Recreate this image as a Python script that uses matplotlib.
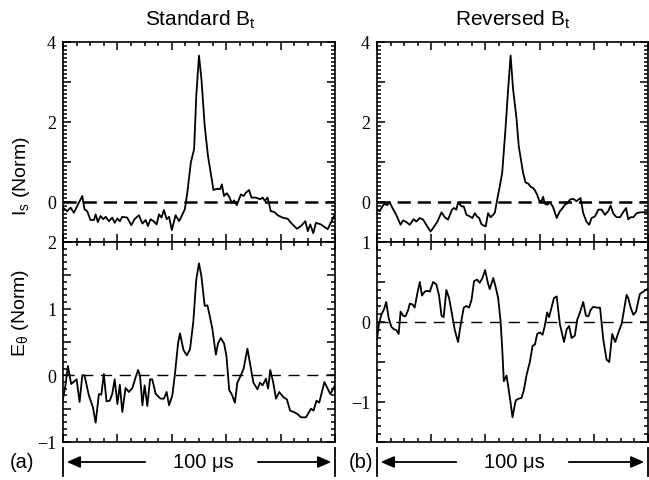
import numpy as np
import matplotlib
matplotlib.use('Agg')
import matplotlib.pyplot as plt
from matplotlib.ticker import MultipleLocator, FixedLocator, FixedFormatter
from matplotlib.lines import Line2D

plt.rcParams['mathtext.fontset'] = 'custom'
plt.rcParams['mathtext.rm'] = 'Liberation Sans'
plt.rcParams['mathtext.it'] = 'Liberation Sans:italic'
plt.rcParams['mathtext.bf'] = 'Liberation Sans:bold'
plt.rcParams['lines.scale_dashes'] = False

# ---------------- data (time in % of 100 us window) ----------------
t_is_std = [0, 1.5, 2.8, 4.0, 5.8, 7.1, 7.9, 8.9, 10.1, 11.4, 12.0, 12.8, 13.8, 14.8, 15.7,
            16.9, 18.1, 19.0, 20.0, 20.9, 21.8, 23.6, 25.1, 26.3, 27.9, 29.2, 30.4, 31.2,
            32.2, 33.5, 34.4, 35.3, 36.2, 37.1, 38.1, 39.0, 40.0, 41.4, 42.7, 43.9, 44.8,
            45.7, 47.0, 48.2, 49.0, 50.0, 50.9, 52.1, 53.3, 54.6, 55.3, 56.5, 57.8, 58.4,
            59.2, 60.2, 61.1, 62.1, 62.9, 63.9, 65.4, 66.4, 67.2, 68.4, 69.3, 70.9, 72.5,
            73.4, 74.2, 75.2, 76.4, 77.7, 78.9, 80.7, 82.6, 83.8, 86.0, 87.5, 89.1, 90.0,
            90.9, 92.0, 93.0, 94.8, 97.3, 99.1, 100]
is_std = [-0.14, -0.23, -0.14, -0.27, -0.02, 0.15, -0.18, -0.23, -0.45, -0.45, -0.31, -0.50,
          -0.35, -0.43, -0.37, -0.48, -0.39, -0.52, -0.41, -0.48, -0.37, -0.39, -0.58, -0.43,
          -0.33, -0.54, -0.45, -0.60, -0.43, -0.49, -0.56, -0.31, -0.39, -0.20, -0.43, -0.37,
          -0.70, -0.33, -0.48, -0.31, -0.18, 0.23, 0.99, 1.32, 2.66, 3.66, 3.07, 1.90, 1.15,
          0.61, 0.30, 0.33, 0.32, 0.44, 0.15, 0.22, 0.13, -0.03, 0.04, -0.08, 0.19, 0.15,
          0.23, 0.30, 0.11, 0.11, 0.07, 0.11, 0.03, 0.11, -0.23, -0.25, -0.33, -0.39, -0.42,
          -0.52, -0.67, -0.60, -0.48, -0.73, -0.56, -0.78, -0.52, -0.56, -0.68, -0.43, -0.30]

t_is_rev = [0, 1.0, 2.0, 2.8, 3.7, 4.7, 5.7, 7.1, 8.7, 9.6, 10.8, 12.1, 13.5, 14.5, 15.8,
            17.0, 18.2, 19.8, 21.1, 22.3, 23.8, 25.0, 26.2, 27.7, 28.4, 29.3, 29.9, 31.2,
            32.0, 33.0, 34.2, 35.2, 36.1, 36.9, 37.7, 38.5, 39.4, 40.1, 41.0, 41.9, 42.9,
            43.5, 44.3, 45.3, 46.2, 47.4, 48.4, 49.3, 50.2, 51.5, 52.3, 53.9, 54.8, 55.8,
            56.7, 57.6, 58.3, 59.1, 59.9, 60.7, 61.3, 61.9, 62.8, 63.8, 65.0, 66.3, 67.5,
            68.5, 69.3, 70.3, 71.2, 72.4, 73.6, 75.1, 76.1, 77.3, 78.3, 79.2, 80.4, 81.7,
            82.9, 84.1, 85.3, 86.2, 87.2, 88.4, 89.7, 90.6, 91.9, 92.7, 93.6, 94.6, 95.8,
            97.0, 100]
is_rev = [-0.19, -0.23, -0.11, -0.04, -0.08, -0.01, -0.15, -0.32, -0.57, -0.46, -0.50, -0.57,
          -0.43, -0.49, -0.40, -0.44, -0.57, -0.74, -0.61, -0.49, -0.26, -0.38, -0.44, -0.19,
          -0.15, -0.19, -0.01, -0.11, -0.11, -0.32, -0.36, -0.40, -0.28, -0.36, -0.40, -0.55,
          -0.59, -0.61, -0.28, -0.38, -0.32, -0.26, 0.04, 0.39, 0.73, 1.82, 2.83, 3.66, 2.83,
          2.07, 1.40, 0.73, 0.49, 0.46, 0.38, 0.35, 0.29, 0.18, 0.03, 0.02, 0.13, -0.04,
          -0.07, 0.00, -0.13, -0.40, -0.23, -0.15, -0.07, -0.03, 0.06, 0.08, 0.02, 0.10,
          -0.28, -0.49, -0.57, -0.40, -0.36, -0.19, -0.19, -0.32, -0.23, -0.09, -0.29, -0.38,
          -0.38, -0.28, -0.15, -0.43, -0.38, -0.38, -0.28, -0.26, -0.25]

t_e_std = [0, 0.9, 1.8, 3.0, 5.0, 6.1, 7.1, 7.9, 9.5, 11.0, 12.0, 13.2, 14.1, 15.0, 16.0,
           17.2, 18.1, 19.0, 20.0, 20.9, 21.8, 23.0, 24.2, 25.5, 26.7, 27.6, 28.3, 29.2,
           30.0, 31.0, 32.0, 32.8, 34.1, 35.9, 37.1, 38.1, 39.0, 40.2, 41.1, 42.3, 43.0,
           44.3, 45.5, 46.7, 47.9, 49.0, 50.0, 50.9, 52.1, 53.1, 53.9, 54.9, 56.2, 57.0,
           58.0, 59.2, 60.1, 61.1, 62.1, 63.2, 64.1, 65.4, 66.4, 67.8, 69.1, 70.0, 71.5,
           72.4, 73.4, 74.6, 75.4, 76.2, 77.3, 78.3, 79.5, 81.1, 82.3, 83.5, 84.8, 86.2,
           87.5, 89.3, 91.2, 92.1, 93.2, 94.2, 96.1, 97.3, 98.3, 100]
e_std = [-0.35, -0.15, 0.14, -0.13, -0.06, -0.40, 0.00, 0.00, -0.30, -0.48, -0.71, -0.28,
         -0.29, 0.02, -0.39, -0.38, -0.28, -0.06, -0.43, -0.14, -0.55, -0.19, -0.25, -0.19,
         -0.03, 0.08, 0.00, -0.45, -0.15, -0.46, -0.06, -0.06, -0.28, -0.35, -0.35, -0.25,
         -0.45, -0.30, 0.00, 0.48, 0.63, 0.38, 0.30, 0.39, 0.80, 1.44, 1.68, 1.48, 1.04,
         1.05, 0.90, 0.70, 0.31, 0.48, 0.56, 0.48, 0.29, -0.22, -0.29, -0.41, -0.11, 0.00,
         0.10, 0.40, 0.10, -0.11, -0.21, -0.11, -0.15, -0.05, -0.20, 0.08, -0.11, -0.35,
         -0.25, -0.33, -0.36, -0.53, -0.55, -0.58, -0.63, -0.63, -0.50, -0.53, -0.38, -0.41,
         -0.10, -0.20, -0.28, -0.15]

t_e_rev = [0, 0.7, 1.6, 2.6, 3.4, 4.3, 5.3, 6.2, 7.1, 8.0, 8.7, 9.6, 10.5, 11.5, 12.1,
           13.1, 13.9, 14.9, 15.8, 16.6, 17.6, 18.5, 19.5, 20.7, 21.9, 22.9, 23.8, 24.6,
           25.6, 26.6, 27.5, 28.7, 29.9, 30.8, 32.0, 33.0, 34.0, 34.9, 35.8, 36.9, 37.9,
           38.9, 39.9, 40.9, 41.6, 42.9, 43.7, 44.7, 45.6, 46.2, 46.8, 47.8, 48.4, 49.3,
           50.0, 50.6, 51.2, 52.1, 53.3, 54.2, 55.2, 56.4, 57.4, 58.3, 59.1, 60.1, 61.1,
           61.9, 62.8, 63.5, 64.4, 65.3, 66.3, 67.5, 69.0, 70.0, 70.9, 71.8, 73.0, 73.9,
           74.9, 76.1, 77.1, 78.0, 78.8, 79.8, 81.0, 82.3, 83.5, 84.7, 85.7, 86.8, 87.9,
           89.0, 90.3, 91.3, 92.1, 92.7, 93.6, 94.6, 95.6, 96.4, 97.0, 100]
e_rev = [-0.22, -0.03, 0.09, 0.16, 0.25, 0.05, -0.06, -0.09, -0.10, -0.15, 0.13, 0.08,
         0.07, 0.15, 0.23, 0.22, 0.18, 0.36, 0.50, 0.33, 0.38, 0.39, 0.38, 0.50, 0.47,
         0.33, 0.08, 0.06, 0.40, 0.30, 0.13, -0.10, -0.25, -0.05, 0.18, 0.20, 0.18, 0.28,
         0.51, 0.53, 0.49, 0.55, 0.65, 0.49, 0.41, 0.55, 0.45, 0.30, 0.01, -0.33, -0.74,
         -0.67, -0.80, -1.01, -1.19, -1.08, -0.98, -0.96, -0.95, -0.85, -0.66, -0.50, -0.30,
         -0.28, -0.15, -0.13, -0.16, -0.05, 0.12, 0.06, 0.18, 0.30, 0.32, -0.03, -0.25,
         -0.09, -0.05, -0.20, -0.17, 0.03, 0.12, 0.25, 0.08, 0.07, 0.15, 0.19, 0.18, 0.18,
         -0.22, -0.47, -0.50, -0.15, -0.25, -0.14, -0.02, 0.18, 0.34, 0.30, 0.18, 0.09,
         0.13, 0.26, 0.35, 0.42]

titles = ['Standard B$_\\mathrm{t}$', 'Reversed B$_\\mathrm{t}$']
ylabel_top = 'I$_\\mathrm{s}$ (Norm)'
ylabel_bot = 'E$_\\mathrm{\u03b8}$ (Norm)'
panel_tags = ['(a)', '(b)']
span_label = '100 \u03bcs'

# ---------------- layout ----------------
W, H = 649, 481
fig = plt.figure(figsize=(W / 100, H / 100), dpi=100)


def rect(l, t, r, b):
    return [l / W, 1 - b / H, (r - l) / W, (b - t) / H]


def fx(x):
    return x / W


def fy(y):
    return 1 - y / H


panels = [
    dict(r=rect(63, 43, 335, 243), t=t_is_std, y=is_std, ylim=(-1, 4), maj=[-1, 0, 1, 2, 3, 4],
         lab=['', '0', '', '2', '', '4'], dash=(9.5, 5.0), dlw=1.8),
    dict(r=rect(377, 43, 648, 243), t=t_is_rev, y=is_rev, ylim=(-1, 4), maj=[-1, 0, 1, 2, 3, 4],
         lab=['', '0', '', '2', '', '4'], dash=(9.5, 5.0), dlw=1.8),
    dict(r=rect(63, 243, 335, 443), t=t_e_std, y=e_std, ylim=(-1, 2),
         maj=[-1, -0.5, 0, 0.5, 1, 1.5, 2],
         lab=['\u22121', '', '0', '', '1', '', '2'], dash=(8.0, 5.5), dlw=1.0),
    dict(r=rect(377, 243, 648, 443), t=t_e_rev, y=e_rev, ylim=(-1.5, 1),
         maj=[-1.5, -1, -0.5, 0, 0.5, 1],
         lab=['', '\u22121', '', '0', '', '1'], dash=(8.0, 5.5), dlw=1.0),
]

axes = []
for p in panels:
    ax = fig.add_axes(p['r'])
    ax.plot(p['t'], p['y'], color='black', lw=1.3)
    ax.axhline(0, color='black', lw=p['dlw'], dashes=p['dash'])
    ax.set_xlim(0, 100)
    ax.set_ylim(*p['ylim'])
    ax.xaxis.set_major_locator(MultipleLocator(20))
    ax.xaxis.set_minor_locator(MultipleLocator(5))
    ax.yaxis.set_major_locator(FixedLocator(p['maj']))
    ax.yaxis.set_major_formatter(FixedFormatter(p['lab']))
    ax.yaxis.set_minor_locator(MultipleLocator(0.1))
    ax.tick_params(which='both', direction='in', top=True, right=True, width=1.1,
                   labelbottom=False, labelsize=13, labelfontfamily='Liberation Serif',
                   pad=5)
    ax.tick_params(which='major', length=5.5)
    ax.tick_params(which='minor', length=3)
    for s in ax.spines.values():
        s.set_linewidth(1.2)
    axes.append(ax)

# titles
fig.text(fx(200), fy(20), titles[0], ha='center', va='center', fontsize=15,
         family='Liberation Sans')
fig.text(fx(513), fy(20), titles[1], ha='center', va='center', fontsize=15,
         family='Liberation Sans')

# y labels
fig.text(fx(21), fy(176), ylabel_top, ha='center', va='center', rotation=90, fontsize=14,
         family='Liberation Sans')
fig.text(fx(21), fy(313), ylabel_bot, ha='center', va='center', rotation=90, fontsize=14,
         family='Liberation Sans')

# bottom span markers
ybar0, ybar1, yarr = 449, 477, 463
spans = [(63, 335, 22, 203), (377, 648, 361, 514)]
for (x0, x1, xtag, xtxt), tag in zip(spans, panel_tags):
    fig.text(fx(xtag), fy(yarr), tag, ha='center', va='center', fontsize=14.5,
             family='Liberation Sans')
    fig.text(fx(xtxt), fy(yarr), span_label, ha='center', va='center', fontsize=14.5,
             family='Liberation Sans')
    for xb in (x0, x1):
        fig.add_artist(Line2D([fx(xb), fx(xb)], [fy(ybar0), fy(ybar1)],
                              transform=fig.transFigure, color='black', lw=1.3))
    fig.add_artist(matplotlib.patches.FancyArrowPatch(
        (fx(xtxt - 55), fy(yarr)), (fx(x0 + 1), fy(yarr)), transform=fig.transFigure,
        arrowstyle='-|>,head_length=8,head_width=3.5', mutation_scale=1, color='black', lw=1.3))
    fig.add_artist(matplotlib.patches.FancyArrowPatch(
        (fx(xtxt + 52), fy(yarr)), (fx(x1 - 1), fy(yarr)), transform=fig.transFigure,
        arrowstyle='-|>,head_length=8,head_width=3.5', mutation_scale=1, color='black', lw=1.3))

fig.savefig('out.png', dpi=100)
